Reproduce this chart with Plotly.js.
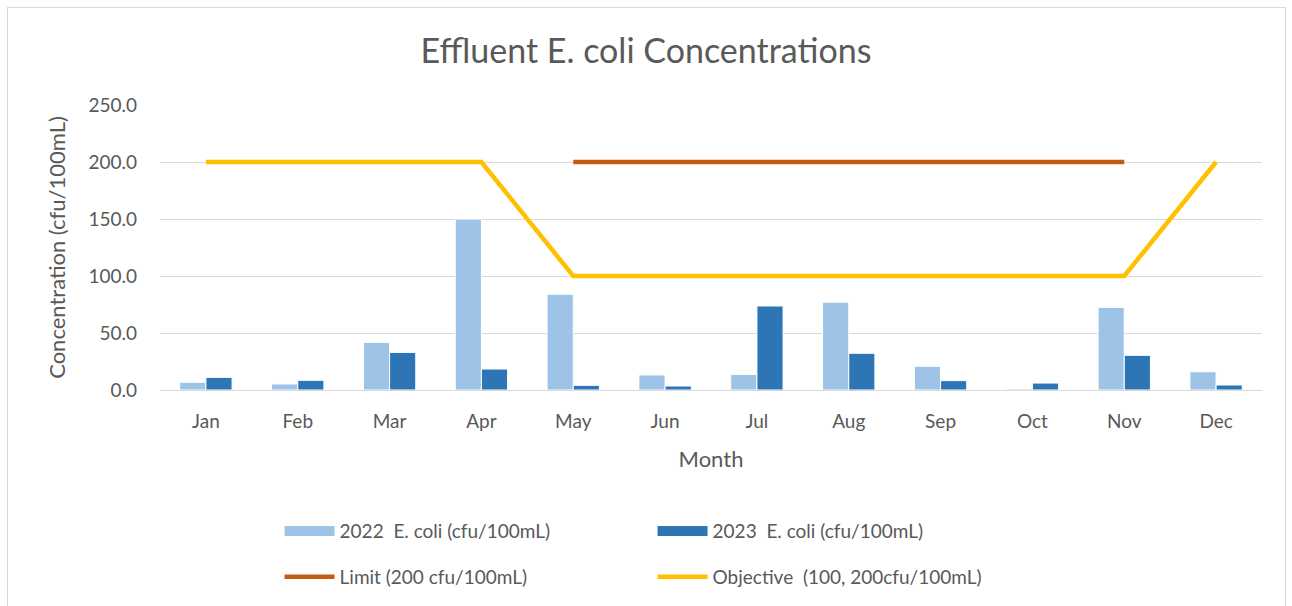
<!DOCTYPE html>
<html>
<head>
<meta charset="utf-8">
<script src="https://cdn.plot.ly/plotly-3.0.1.min.js"></script>
<style>
  html, body { margin: 0; padding: 0; background: #fff; }
  #wrap { position: relative; width: 1292px; height: 606px; }
  #chart { width: 1292px; height: 606px; }
  #frame { position: absolute; left: 7px; top: 7px; width: 1277px; height: 610px; border: 1px solid #d9d9d9; pointer-events: none; }
</style>
</head>
<body>
<div id="wrap"><div id="chart"></div><div id="frame"></div></div>
<script>
const months = ["Jan","Feb","Mar","Apr","May","Jun","Jul","Aug","Sep","Oct","Nov","Dec"];
const ecoli2022 = [6.8, 5.3, 41.8, 150, 84, 13.2, 13.7, 77, 20.8, 1, 72.5, 16];
const ecoli2023 = [11.1, 8.5, 33, 18.4, 4.1, 3.5, 73.7, 32.2, 8.2, 6.1, 30.4, 4.4];
const limit = [null, null, null, null, 200, 200, 200, 200, 200, 200, 200, null];
const objective = [200, 200, 200, 200, 100, 100, 100, 100, 100, 100, 100, 200];
const yTicks = [0, 50, 100, 150, 200, 250];
const seriesNames = ["2022  E. coli (cfu/100mL)", "2023  E. coli (cfu/100mL)", "Limit (200 cfu/100mL)", "Objective  (100, 200cfu/100mL)"];
const seriesColors = ["#9DC3E6", "#2E75B6", "#C55A11", "#FFC000"];

const font = "Lato, 'Open Sans', sans-serif";
const grey = "#595959";

const traces = [
  { type: "bar", name: seriesNames[0], x: months, y: ecoli2022, showlegend: false,
    marker: { color: seriesColors[0], line: { color: "#ffffff", width: 1 } } },
  { type: "bar", name: seriesNames[1], x: months, y: ecoli2023, showlegend: false,
    marker: { color: seriesColors[1], line: { color: "#ffffff", width: 1 } } },
  // legend-only swatches for the bar series (wide rectangle style)
  { type: "scatter", mode: "lines", name: seriesNames[0], x: [months[0]], y: [null], legend: "legend",
    line: { color: seriesColors[0], width: 14 }, hoverinfo: "skip" },
  { type: "scatter", mode: "lines", name: seriesNames[1], x: [months[0]], y: [null], legend: "legend",
    line: { color: seriesColors[1], width: 14 }, hoverinfo: "skip" },
  { type: "scatter", mode: "lines", name: seriesNames[2], x: months, y: limit, legend: "legend2",
    line: { color: seriesColors[2], width: 4.5 } },
  { type: "scatter", mode: "lines", name: seriesNames[3], x: months, y: objective, legend: "legend2",
    line: { color: seriesColors[3], width: 4.5 } }
];

const legendBase = {
  orientation: "h", x: 0.1085, xanchor: "left", yanchor: "middle",
  entrywidth: 308, entrywidthmode: "pixels", traceorder: "normal",
  font: { size: 19, color: grey, family: font }, itemwidth: 50, bgcolor: "rgba(0,0,0,0)"
};

const layout = {
  width: 1292, height: 606,
  margin: { l: 160, r: 30, t: 105, b: 215 },
  paper_bgcolor: "#ffffff", plot_bgcolor: "#ffffff",
  font: { family: font, color: grey, size: 18 },
  title: { text: "Effluent E. coli Concentrations", x: 0.5, xanchor: "center", y: 0.915, yanchor: "middle",
           font: { family: font, size: 34, color: grey } },
  barmode: "group", bargap: 0.43, bargroupgap: 0,
  xaxis: {
    type: "category", showgrid: false, zeroline: false,
    showline: true, linecolor: "#d9d9d9", linewidth: 1,
    ticks: "", ticklabelstandoff: 14, tickfont: { size: 19, color: grey },
    title: { text: "Month", font: { size: 22, color: grey }, standoff: 20 }
  },
  yaxis: {
    range: [0, 250], tickvals: yTicks, tickformat: ".1f",
    showgrid: true, gridcolor: "#d9d9d9", gridwidth: 1, zeroline: false,
    showline: false, ticks: "", ticklabelstandoff: 22, tickfont: { size: 19, color: grey },
    title: { text: "Concentration (cfu/100mL)", font: { size: 22, color: grey }, standoff: 16 }
  },
  showlegend: true,
  legend: Object.assign({}, legendBase, { y: -0.49 }),
  legend2: Object.assign({}, legendBase, { y: -0.65 })
};

Plotly.newPlot("chart", traces, layout, { displayModeBar: false, staticPlot: true });
</script>
</body>
</html>
